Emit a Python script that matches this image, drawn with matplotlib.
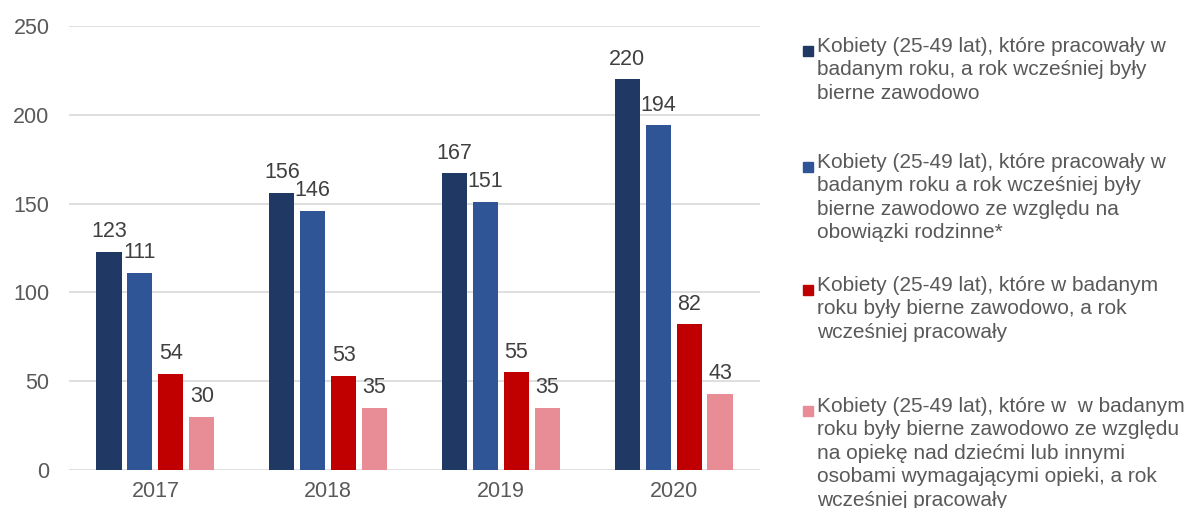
import matplotlib.pyplot as plt
import matplotlib.patches as patches
import numpy as np

plt.rcParams['font.family'] = ['Liberation Sans', 'DejaVu Sans']

years = ["2017", "2018", "2019", "2020"]
worked_after_inactive = [123, 156, 167, 220]
worked_after_family = [111, 146, 151, 194]
inactive_after_work = [54, 53, 55, 82]
inactive_care = [30, 35, 35, 43]

series_labels = [
    "Kobiety (25-49 lat), które pracowały w\nbadanym roku, a rok wcześniej były\nbierne zawodowo",
    "Kobiety (25-49 lat), które pracowały w\nbadanym roku a rok wcześniej były\nbierne zawodowo ze względu na\nobowiązki rodzinne*",
    "Kobiety (25-49 lat), które w badanym\nroku były bierne zawodowo, a rok\nwcześniej pracowały",
    "Kobiety (25-49 lat), które w  w badanym\nroku były bierne zawodowo ze względu\nna opiekę nad dziećmi lub innymi\nosobami wymagającymi opieki, a rok\nwcześniej pracowały",
]
colors = ["#203864", "#2F5597", "#C00000", "#E88D96"]
text_color = "#595959"

fig = plt.figure(figsize=(11.84, 5.08), dpi=100)
ax = fig.add_axes([0.0583, 0.0748, 0.5836, 0.8740])

series = [worked_after_inactive, worked_after_family, inactive_after_work, inactive_care]
x = np.arange(len(years))
step = 0.179
width = 0.145
for i, (vals, c) in enumerate(zip(series, colors)):
    pos = x + (i - 1.5) * step
    bars = ax.bar(pos, vals, width=width, color=c, zorder=3)
    for b, v in zip(bars, vals):
        ax.annotate(str(v), (b.get_x() + b.get_width() / 2, v), xytext=(0, 7),
                    textcoords="offset points", ha="center", va="bottom",
                    fontsize=15.5, color="#404040")

ax.set_xlim(-0.5, 3.5)
ax.set_ylim(0, 250)
ax.set_yticks(range(0, 251, 50))
ax.set_xticks(x, years)
ax.grid(axis="y", color="#d9d9d9", linewidth=1.2, zorder=0)
ax.spines[:].set_visible(False)
ax.tick_params(axis="both", length=0, labelsize=15.5, labelcolor=text_color)
ax.tick_params(axis="y", pad=14)
ax.tick_params(axis="x", pad=8)

# legend on the right
legend_tops = [0.901, 0.672, 0.430, 0.192]
for lab, c, yt in zip(series_labels, colors, legend_tops):
    fig.patches.append(patches.Rectangle((803 / 1184, yt - 0.011), 10 / 1184, 10 / 508,
                                         transform=fig.transFigure, color=c))
    fig.text(817 / 1184, yt + 0.027, lab, ha="left", va="top", fontsize=15,
             color=text_color, linespacing=1.3)

fig.savefig("out.png", dpi=100)
